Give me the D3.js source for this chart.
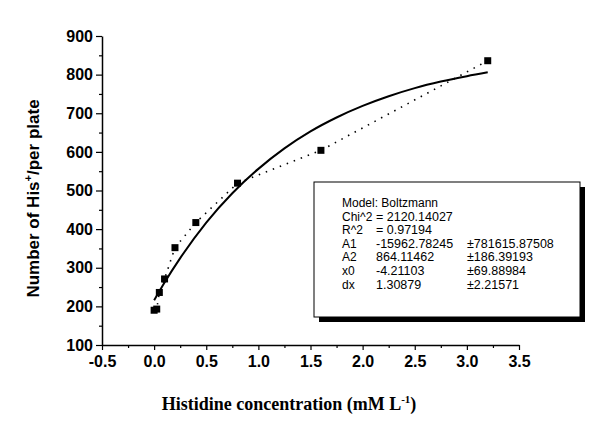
<!DOCTYPE html>
<html>
<head>
<meta charset="utf-8">
<script src="https://cdn.jsdelivr.net/npm/d3@7"></script>
<style>
  body { margin: 0; background: #fff; }
  svg { display: block; }
</style>
</head>
<body>
<svg id="chart" width="600" height="435"></svg>
<script>
// measured points (histidine mM/L vs revertants)
const doseX = [0, 0.025, 0.05, 0.1, 0.2, 0.4, 0.8, 1.6, 3.2]
const countY = [190, 193, 236, 271, 352, 417, 519, 604, 836]

// Boltzmann fit curve
const fitX = [0, 0.1, 0.25, 0.5, 0.75, 1, 1.25, 1.5, 1.75, 2, 2.25, 2.5, 2.75, 3, 3.2]
const fitY = [216, 262, 325, 417, 493, 556, 609, 653, 689, 719, 744, 765, 782, 796, 806]

const xTicks = [-0.5, 0, 0.5, 1, 1.5, 2, 2.5, 3, 3.5]
const yTicks = [100, 200, 300, 400, 500, 600, 700, 800, 900]

const boxRows = [
  ["Model: Boltzmann", "", ""],
  ["Chi^2", "= 2120.14027", ""],
  ["R^2", "= 0.97194", ""],
  ["A1", "-15962.78245", "\u00b1781615.87508"],
  ["A2", "864.11462", "\u00b1186.39193"],
  ["x0", "-4.21103", "\u00b169.88984"],
  ["dx", "1.30879", "\u00b12.21571"]
]

const margin = { top: 36, left: 102 }
const width = 417
const height = 309

const svg = d3.select("#chart")
const g = svg.append("g").attr("transform", `translate(${margin.left},${margin.top})`)

const x = d3.scaleLinear().domain([-0.5, 3.5]).range([0, width])
const y = d3.scaleLinear().domain([100, 900]).range([height, 0])

const sans = "'Liberation Sans', Arial, sans-serif"

// minor ticks first
g.append("g")
  .attr("transform", `translate(0,${height})`)
  .call(d3.axisBottom(x).tickValues(d3.range(-0.25, 3.5, 0.5)).tickSize(3).tickFormat(""))
  .call(a => a.select(".domain").remove())
g.append("g")
  .call(d3.axisLeft(y).tickValues(d3.range(150, 900, 100)).tickSize(3).tickFormat(""))
  .call(a => a.select(".domain").remove())

g.append("g")
  .attr("transform", `translate(0,${height})`)
  .call(d3.axisBottom(x).tickValues(xTicks).tickSize(5).tickPadding(6).tickSizeOuter(0).tickFormat(d => d.toFixed(1)))
g.append("g")
  .call(d3.axisLeft(y).tickValues(yTicks).tickSize(6).tickPadding(3).tickSizeOuter(0))

g.selectAll(".tick line").attr("stroke", "#000").attr("stroke-width", 1.2)
g.selectAll(".domain").attr("stroke", "#000").attr("stroke-width", 1.5)
g.selectAll(".tick text")
  .attr("fill", "#000")
  .style("font-family", sans)
  .style("font-weight", "bold")
  .style("font-size", "16px")

// dotted connection between points
const dotLine = d3.line().x((d, i) => x(doseX[i])).y(d => y(d))
g.append("path")
  .datum(countY)
  .attr("d", dotLine)
  .attr("fill", "none")
  .attr("stroke", "#000")
  .attr("stroke-width", 1.6)
  .attr("stroke-dasharray", "1.5,6")

// fitted curve
const fitLine = d3.line().x((d, i) => x(fitX[i])).y(d => y(d)).curve(d3.curveMonotoneX)
g.append("path")
  .datum(fitY)
  .attr("d", fitLine)
  .attr("fill", "none")
  .attr("stroke", "#000")
  .attr("stroke-width", 2)

// square markers
g.selectAll("rect.pt")
  .data(countY)
  .enter()
  .append("rect")
  .attr("class", "pt")
  .attr("x", (d, i) => x(doseX[i]) - 3.5)
  .attr("y", d => y(d) - 3.5)
  .attr("width", 7)
  .attr("height", 7)
  .attr("fill", "#000")

// parameter box with shadow
const box = svg.append("g").attr("transform", "translate(314,182)")
box.append("rect").attr("x", 5).attr("y", 5).attr("width", 266).attr("height", 135).attr("fill", "#000")
box.append("rect").attr("x", 0).attr("y", 0).attr("width", 266).attr("height", 135)
  .attr("fill", "#fff").attr("stroke", "#000").attr("stroke-width", 1)

const cols = [28, 62, 153]
boxRows.forEach((row, i) => {
  row.forEach((txt, j) => {
    if (!txt) return
    box.append("text")
      .attr("x", cols[j])
      .attr("y", 25 + i * 13.6)
      .style("font-family", sans)
      .style("font-size", j === 0 ? "12px" : "12.5px")
      .attr("fill", "#000")
      .text(txt)
  })
})

// axis titles
const yTitle = svg.append("text")
  .attr("transform", `translate(39,${margin.top + height / 2 + 8}) rotate(-90)`)
  .attr("text-anchor", "middle")
  .style("font-family", sans)
  .style("font-weight", "bold")
  .style("font-size", "17px")
yTitle.append("tspan").text("Number of His")
yTitle.append("tspan").attr("dy", -7).style("font-size", "11px").text("+")
yTitle.append("tspan").attr("dy", 7).text("/per plate")

const xTitle = svg.append("text")
  .attr("x", 289)
  .attr("y", 410)
  .attr("text-anchor", "middle")
  .style("font-family", "'Liberation Serif', 'Times New Roman', serif")
  .style("font-weight", "bold")
  .style("font-size", "18px")
xTitle.append("tspan").text("Histidine concentration (mM L")
xTitle.append("tspan").attr("dy", -7).style("font-size", "11px").text("-1")
xTitle.append("tspan").attr("dy", 7).text(")")
</script>
</body>
</html>
